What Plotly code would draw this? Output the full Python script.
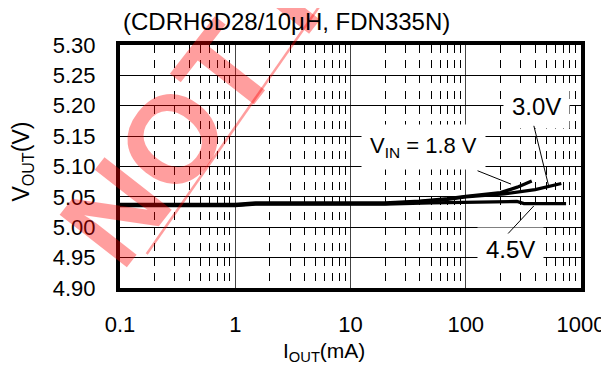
import plotly.graph_objects as go

# output current (mA) and output voltage (V)
x_18 = [0.1, 1, 1.5, 20, 40, 70, 100, 200, 280, 374]
y_18 = [5.0375, 5.0375, 5.040, 5.040, 5.043, 5.047, 5.051, 5.057, 5.066, 5.076]

x_30 = [0.1, 1, 1.5, 20, 40, 70, 100, 215, 400, 675]
y_30 = [5.0365, 5.0365, 5.039, 5.039, 5.042, 5.046, 5.050, 5.055, 5.062, 5.072]

x_45 = [0.1, 1, 1.5, 20, 50, 150, 278, 320, 742]
y_45 = [5.0355, 5.0355, 5.038, 5.038, 5.040, 5.042, 5.0425, 5.039, 5.039]

x_ticks = [0.1, 1, 10, 100, 1000]
x_labels = ["0.1", "1", "10", "100", "1000"]
y_ticks = [4.90, 4.95, 5.00, 5.05, 5.10, 5.15, 5.20, 5.25, 5.30]
minor_x = [m * d for d in [0.1, 1, 10, 100] for m in range(2, 10)]

FONT = "Arial, Liberation Sans, sans-serif"
PINK = "rgba(255,0,0,0.38)"

fig = go.Figure()
for xs, ys in [(x_45, y_45), (x_30, y_30), (x_18, y_18)]:
    fig.add_trace(go.Scatter(x=xs, y=ys, mode="lines",
                             line=dict(color="black", width=3.3),
                             showlegend=False, hoverinfo="skip"))

# curve labels (x in log10 units for annotations on a log axis)
labels = [
    ("V<sub>IN</sub> = 1.8 V", 1.63, 5.132, 22),
    ("3.0V", 2.615, 5.198, 24),
    ("4.5V", 2.39, 4.964, 24),
]
for txt, lx, ly, fs in labels:
    fig.add_annotation(x=lx, y=ly, text=txt, showarrow=False,
                       xanchor="center", yanchor="middle",
                       bgcolor="white", borderpad=8,
                       font=dict(size=fs, color="black", family=FONT))

# leader lines from labels to curves
leaders = [(2.393, 5.071, -35, -14), (2.718, 5.069, -15, -61), (2.59, 5.035, -27, 29)]
for lx, ly, ax, ay in leaders:
    fig.add_annotation(x=lx, y=ly, ax=ax, ay=ay, text="", showarrow=True,
                       arrowhead=0, arrowwidth=1, arrowcolor="black")

# watermark
fig.add_annotation(xref="paper", yref="paper", x=0.795, y=2.267,
                   xanchor="center", yanchor="middle",
                   text="<b>NOT RECOMMENDED</b>", textangle=-52, showarrow=False,
                   font=dict(size=124, color=PINK, family=FONT))
fig.add_shape(type="line", xref="paper", yref="paper", x0=0.058, y0=0.14, x1=0.442, y1=1.185,
              line=dict(color=PINK, width=2.5))

# title and axis titles
fig.add_annotation(xref="paper", yref="paper", x=0.362, y=1.095,
                   xanchor="center", yanchor="middle",
                   text="(CDRH6D28/10μH, FDN335N)", showarrow=False,
                   font=dict(size=24, color="black", family=FONT))
fig.add_annotation(xref="paper", yref="paper", x=0.442, y=-0.263,
                   xanchor="center", yanchor="middle",
                   text="I<sub>OUT</sub>(mA)", showarrow=False,
                   font=dict(size=21, color="black", family=FONT))
fig.add_annotation(xref="paper", yref="paper", x=-0.211, y=0.519,
                   xanchor="center", yanchor="middle", textangle=-90,
                   text="V<sub>OUT</sub>(V)", showarrow=False,
                   font=dict(size=23, color="black", family=FONT))

fig.update_xaxes(type="log", range=[-1, 3], tickvals=x_ticks, ticktext=x_labels,
                 showgrid=True, gridcolor="#444", gridwidth=1,
                 minor=dict(tickvals=minor_x, showgrid=True, gridcolor="black",
                            griddash="8px,7.2px", gridwidth=1, ticks=""),
                 showline=True, linecolor="black", linewidth=4, mirror=True,
                 ticks="", ticklabelstandoff=14, zeroline=False,
                 tickfont=dict(size=22, color="black", family=FONT))
fig.update_yaxes(range=[4.90, 5.30], tickvals=y_ticks, tickformat=".2f",
                 showgrid=True, gridcolor="black", gridwidth=1,
                 showline=True, linecolor="black", linewidth=4, mirror=True,
                 ticks="", ticklabelstandoff=16, zeroline=False,
                 tickfont=dict(size=22, color="black", family=FONT))

# page body has an 8px margin, so the margins here are offset by it
fig.update_layout(
    width=609, height=365,
    margin=dict(l=112, r=33, t=37, b=85),
    paper_bgcolor="white", plot_bgcolor="white",
)

fig.write_html("out.html")
